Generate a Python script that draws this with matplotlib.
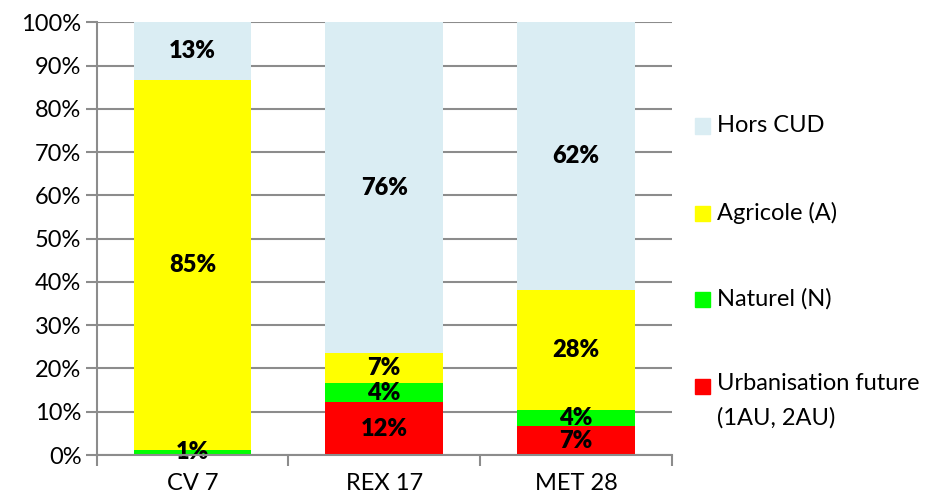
import numpy as np
import matplotlib.pyplot as plt
from matplotlib.patches import Rectangle
from matplotlib.ticker import FixedLocator, PercentFormatter

plt.rcParams["font.family"] = ["Lato", "DejaVu Sans"]

categories = ["CV 7", "REX 17", "MET 28"]
series = ["Urbanisation future\n(1AU, 2AU)", "Naturel (N)", "Agricole (A)", "Hors CUD"]
colors = ["#ff0000", "#00ff00", "#ffff00", "#daedf3"]

urbanisation = [0.0, 12.2, 6.6]
naturel = [1.2, 4.4, 3.9]
agricole = [85.5, 6.9, 27.7]
hors_cud = [13.3, 76.5, 61.8]

labels_urb = ["", "12%", "7%"]
labels_nat = ["1%", "4%", "4%"]
labels_agr = ["85%", "7%", "28%"]
labels_hors = ["13%", "76%", "62%"]

values = [urbanisation, naturel, agricole, hors_cud]
labels = [labels_urb, labels_nat, labels_agr, labels_hors]

grey = "#8c8c8c"

fig = plt.figure(figsize=(9.33, 5.0), dpi=100)
ax = fig.add_axes([0.1036, 0.09, 0.6164, 0.8654])

x = np.arange(len(categories))
bottom = np.zeros(len(categories))
for vals, labs, col in zip(values, labels, colors):
    vals = np.array(vals)
    ax.bar(x, vals, 0.615, bottom=bottom, color=col, zorder=2)
    for xi, b, v, lab in zip(x, bottom, vals, labs):
        if lab:
            ax.text(xi, b + v / 2, lab, ha="center", va="center",
                    fontsize=17, fontweight="heavy", zorder=3)
    bottom += vals

ax.set_xlim(-0.5, 2.5)
ax.set_ylim(0, 100)
ax.set_yticks(np.arange(0, 101, 10))
ax.yaxis.set_major_formatter(PercentFormatter(decimals=0))
ax.set_xticks(x)
ax.set_xticklabels(categories)
ax.xaxis.set_minor_locator(FixedLocator([-0.5, 0.5, 1.5, 2.5]))
ax.tick_params(axis="x", which="major", length=0, pad=13, labelsize=17)
ax.tick_params(axis="x", which="minor", length=8, width=1.5, color=grey)
ax.tick_params(axis="y", length=8, width=1.5, color=grey, labelsize=17, pad=3)
ax.grid(axis="y", color=grey, linewidth=1.5, zorder=0)
ax.set_axisbelow(True)
for side in ["top", "right"]:
    ax.spines[side].set_visible(False)
for side in ["left", "bottom"]:
    ax.spines[side].set_color(grey)
    ax.spines[side].set_linewidth(1.5)
    ax.spines[side].set_zorder(4)

# legende dessinee a la main, de haut en bas
leg_y = [0.748, 0.574, 0.402, 0.228]
for name, col, yy in zip(series[::-1], colors[::-1], leg_y):
    fig.patches.append(Rectangle((0.745, yy - 0.015), 0.016, 0.03,
                                 transform=fig.transFigure, color=col))
    if "\n" in name:
        fig.text(0.768, yy + 0.025, name, fontsize=17, va="top", linespacing=1.7)
    else:
        fig.text(0.768, yy, name, fontsize=17, va="center")

plt.savefig("out.png", dpi=100)
plt.close()
